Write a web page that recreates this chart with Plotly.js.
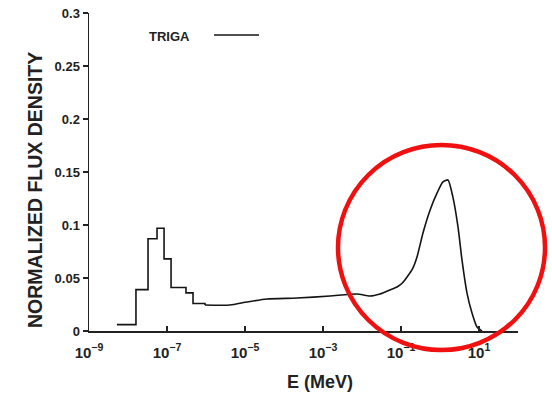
<!DOCTYPE html>
<html>
<head>
<meta charset="utf-8">
<script src="https://cdn.plot.ly/plotly-3.0.1.min.js"></script>
<style>html,body{margin:0;padding:0;background:#fff;}#chart{width:552px;height:393px;}</style>
</head>
<body>
<div id="chart"></div>
<script>
// Thermal group histogram (bin left edges in MeV, flux per bin)
const thermalE = [5.2e-9, 1.6e-8, 3.26e-8, 5.55e-8, 8.4e-8, 1.27e-7, 3.07e-7, 4.65e-7, 9.4e-7];
const thermalFlux = [0.006, 0.039, 0.087, 0.097, 0.068, 0.041, 0.036, 0.026, 0.0245];

// Epithermal + fast part
const fastE = [9.4e-7, 4.1e-6, 1.12e-5, 3.66e-5, 2.15e-4, 1.51e-3, 7.4e-3, 0.016, 0.029, 0.052, 0.079, 0.11, 0.143, 0.2, 0.257, 0.366, 0.555, 0.837, 1.19, 1.60, 2.15, 2.90, 3.66, 4.92, 6.62, 8.89, 11.9];
const fastFlux = [0.0245, 0.0245, 0.0274, 0.0302, 0.0311, 0.0330, 0.0349, 0.0330, 0.0349, 0.0387, 0.0415, 0.0455, 0.0509, 0.059, 0.0698, 0.0925, 0.114, 0.130, 0.1406, 0.1425, 0.126, 0.098, 0.067, 0.0358, 0.017, 0.0038, 0.0];

const xTickVals = [1e-9, 1e-7, 1e-5, 1e-3, 1e-1, 1e1];
const xTickText = ['10<sup>−9</sup>', '10<sup>−7</sup>', '10<sup>−5</sup>', '10<sup>−3</sup>', '10<sup>−1</sup>', '10<sup>1</sup>'];
const yTickVals = [0, 0.05, 0.1, 0.15, 0.2, 0.25, 0.3];
const yTickText = ['0', '0.05', '0.1', '0.15', '0.2', '0.25', '0.3'];
const seriesName = 'TRIGA';

const lineStyle = {color: '#141414', width: 1.6};
const font = 'Liberation Sans, Arial, sans-serif';

const traces = [
  {x: thermalE, y: thermalFlux, mode: 'lines', line: Object.assign({shape: 'hv'}, lineStyle), name: seriesName, showlegend: false, hoverinfo: 'skip'},
  {x: fastE, y: fastFlux, mode: 'lines', line: Object.assign({shape: 'spline', smoothing: 0.6}, lineStyle), name: seriesName, showlegend: false, hoverinfo: 'skip'}
];

const layout = {
  width: 552, height: 393,
  margin: {l: 89, r: 34, t: 13, b: 62},
  paper_bgcolor: '#fff', plot_bgcolor: '#fff',
  showlegend: false,
  font: {family: font, color: '#222'},
  xaxis: {
    type: 'log', range: [-9, 2],
    tickvals: xTickVals, ticktext: xTickText,
    ticks: 'inside', ticklen: 5, tickwidth: 1.2, tickcolor: '#222',
    showline: true, linecolor: '#222', linewidth: 1.5,
    showgrid: false, zeroline: false,
    ticklabelstandoff: 7,
    tickfont: {family: font, size: 15, weight: 'bold', color: '#222'}
  },
  yaxis: {
    range: [0, 0.3],
    tickvals: yTickVals, ticktext: yTickText,
    ticks: 'outside', ticklen: 5, tickwidth: 1.2, tickcolor: '#222',
    showline: true, linecolor: '#222', linewidth: 1.5,
    showgrid: false, zeroline: false,
    tickfont: {family: font, size: 13, weight: 'bold', color: '#222'}
  },
  annotations: [
    {text: 'E (MeV)', xref: 'paper', yref: 'paper', x: (320 - 89) / 429, y: (331 - 382) / 318, xanchor: 'center', yanchor: 'middle', showarrow: false,
     font: {family: font, size: 18, weight: 'bold', color: '#222'}},
    {text: 'NORMALIZED FLUX DENSITY', xref: 'paper', yref: 'paper', x: (35 - 89) / 429, y: (331 - 190) / 318, xanchor: 'center', yanchor: 'middle', textangle: -90, showarrow: false,
     font: {family: font, size: 19.5, weight: 'bold', color: '#222'}},
    {text: seriesName, xref: 'paper', yref: 'paper', x: (147 - 89) / 429, y: (331 - 37) / 318, xanchor: 'left', yanchor: 'middle', showarrow: false,
     font: {family: font, size: 13, weight: 'bold', color: '#222'}}
  ],
  shapes: [
    {type: 'line', xref: 'paper', yref: 'paper', x0: (214 - 89) / 429, x1: (259 - 89) / 429, y0: (331 - 35) / 318, y1: (331 - 35) / 318, line: lineStyle},
    {type: 'circle', xref: 'paper', yref: 'paper', x0: (338 - 89) / 429, x1: (545 - 89) / 429, y0: (331 - 350) / 318, y1: (331 - 145) / 318, line: {color: '#f01010', width: 4.5}}
  ]
};

Plotly.newPlot('chart', traces, layout, {staticPlot: true, displayModeBar: false});
</script>
</body>
</html>
